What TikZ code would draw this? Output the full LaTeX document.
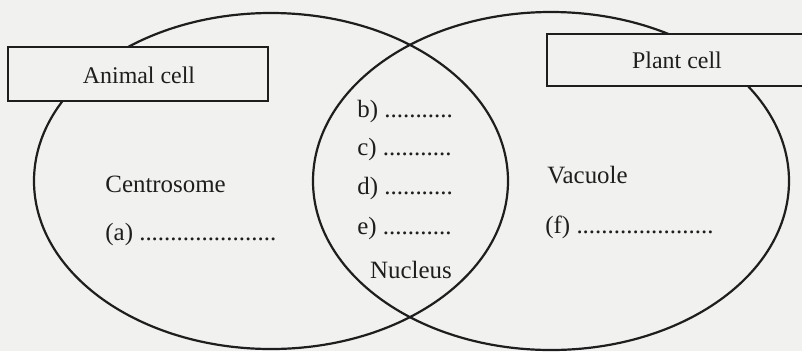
\documentclass[tikz,border=0pt]{standalone}
\usepackage{fontspec}
\setmainfont{Liberation Serif}
\usetikzlibrary{positioning}
\definecolor{paper}{RGB}{241,241,239}
\definecolor{ink}{RGB}{30,30,30}
\tikzset{
  cell/.style={line width=1.1bp,draw=ink},
  namebox/.style={draw=ink,line width=0.8bp,fill=paper},
  lbl/.style={anchor=base west,inner sep=0pt,text=ink,font=\fontsize{12.5}{15}\selectfont},
  boxlbl/.style={anchor=base,inner sep=0pt,text=ink,font=\fontsize{12}{14}\selectfont}
}
\begin{document}
\begin{tikzpicture}[x=0.5bp,y=0.5bp]
\useasboundingbox[fill=paper] (0,0) rectangle (802,351);
\draw[cell] (271,170) ellipse (237 and 168);
\draw[cell] (551,170) ellipse (238 and 169);
\draw[namebox] (8,304) rectangle (268,250);
\draw[namebox] (547,317) rectangle (815,265);
\node[boxlbl] (animal) at (139,268) {Animal cell};
\node[boxlbl] (plant) at (677,283) {Plant cell};
\node[lbl] (centro) at (105,159) {Centrosome};
\node[lbl] (qa) at (105,111) {(a) ......................};
\node[lbl] (qb) at (357,234) {b) ...........};
\node[lbl] (qc) at (357,196) {c) ...........};
\node[lbl] (qd) at (357,157) {d) ...........};
\node[lbl] (qe) at (357,117) {e) ...........};
\node[lbl,anchor=base] (nucleus) at (411,73) {Nucleus};
\node[lbl] (vacuole) at (547,168) {Vacuole};
\node[lbl] (qf) at (545,118) {(f) ......................};
\end{tikzpicture}
\end{document}
